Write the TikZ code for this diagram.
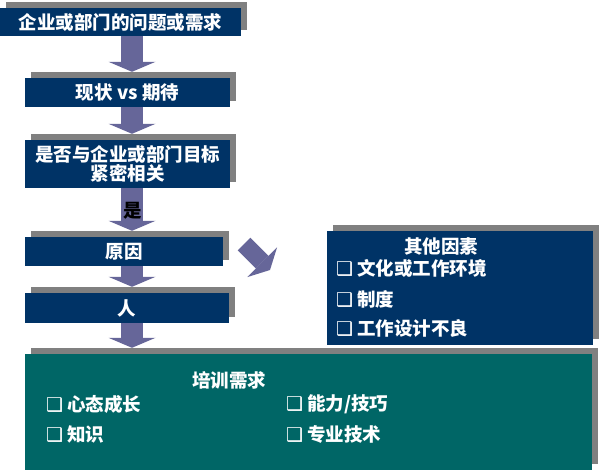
\documentclass[tikz,border=0pt]{standalone}
\usepackage{fontspec}
\setmainfont{Noto Sans CJK SC}
\newfontfamily\symfont{DejaVu Sans}
\usepackage{xcolor}
\usetikzlibrary{arrows.meta,shadows}
\definecolor{navybg}{RGB}{0,51,102}
\definecolor{tealbg}{RGB}{0,102,102}
\definecolor{shadowgray}{RGB}{128,128,128}
\definecolor{arrowpurple}{RGB}{102,102,153}
\newcommand\chkbox{{\symfont\mdseries\fontsize{19}{19}\selectfont ❑}\hspace{4pt}}
\tikzset{
  box/.style      ={rectangle,inner sep=0pt,text=white,align=center,
                    font=\fontsize{18.5}{19.5}\selectfont\bfseries,
                    drop shadow={shadow xshift=6pt,shadow yshift=6pt,fill=shadowgray,opacity=1}},
  navybox/.style  ={box,fill=navybg},
  tealbox/.style  ={box,fill=tealbg},
  boxtext/.style  ={inner sep=0pt,text=white,font=\fontsize{18.5}{19.5}\selectfont\bfseries},
  itemtext/.style ={boxtext,anchor=west},
  flowarrow/.style={draw=arrowpurple,line width=22pt,
                    -{Triangle[width=47pt,length=10pt,line width=0pt]}},
}

\begin{document}
\begin{tikzpicture}[x=1pt,y=-1pt]
  \useasboundingbox (0,0) rectangle (599,470);
  % main flow
  \node[navybox,minimum width=241pt,minimum height=28pt] (need)   at (120.5,22)  {企业或部门的问题或需求};
  \node[navybox,minimum width=205pt,minimum height=29pt] (gap)    at (127.5,92.5) {现状 vs 期待};
  \node[navybox,minimum width=205pt,minimum height=48pt] (goal)   at (127.5,164) {是否与企业或部门目标\\紧密相关};
  \node[navybox,minimum width=198pt,minimum height=29pt] (cause)  at (124,251.5) {原因};
  \node[navybox,minimum width=204pt,minimum height=30pt] (person) at (127,308)   {人};
  % other factors
  \node[navybox,minimum width=266pt,minimum height=114pt] (other) at (460,288) {};
  \node[boxtext]  (othert)  at (441,246) {其他因素};
  \node[itemtext] (other1)  at (336,268) {\chkbox 文化或工作环境};
  \node[itemtext] (other2)  at (336,299) {\chkbox 制度};
  \node[itemtext] (other3)  at (336,328) {\chkbox 工作设计不良};
  % training needs
  \node[tealbox,minimum width=567pt,minimum height=116pt] (train) at (308.5,412) {};
  \node[boxtext]  (traint)  at (229,380) {培训需求};
  \node[itemtext] (train1)  at (46,404)  {\chkbox 心态成长};
  \node[itemtext] (train2)  at (46,434)  {\chkbox 知识};
  \node[itemtext] (train3)  at (286,404) {\chkbox 能力/技巧};
  \node[itemtext] (train4)  at (286,434) {\chkbox 专业技术};
  % arrows
  \coordinate (col) at (132,0);
  \draw[flowarrow,shorten >=6pt] (need.south -| col)  -- (gap.north -| col);
  \draw[flowarrow,shorten >=6pt] (gap.south -| col)   -- (goal.north -| col);
  \draw[flowarrow,shorten >=6pt] (goal.south -| col)  -- (cause.north -| col);
  \draw[flowarrow,shorten >=6pt] (cause.south -| col) -- (person.north -| col);
  \draw[flowarrow,shorten >=6pt] (person.south -| col) -- (train.north -| col);
  \node[font=\fontsize{18.5}{19.5}\selectfont\bfseries] (yes) at (133,211) {是};
  \coordinate (sidetail) at (244,244);
  \coordinate (sidetip)  at (270,270);
  \draw[flowarrow,line width=18pt,-{Triangle[width=42pt,length=11pt,line width=0pt]}] (sidetail) -- (sidetip);
\end{tikzpicture}
\end{document}
